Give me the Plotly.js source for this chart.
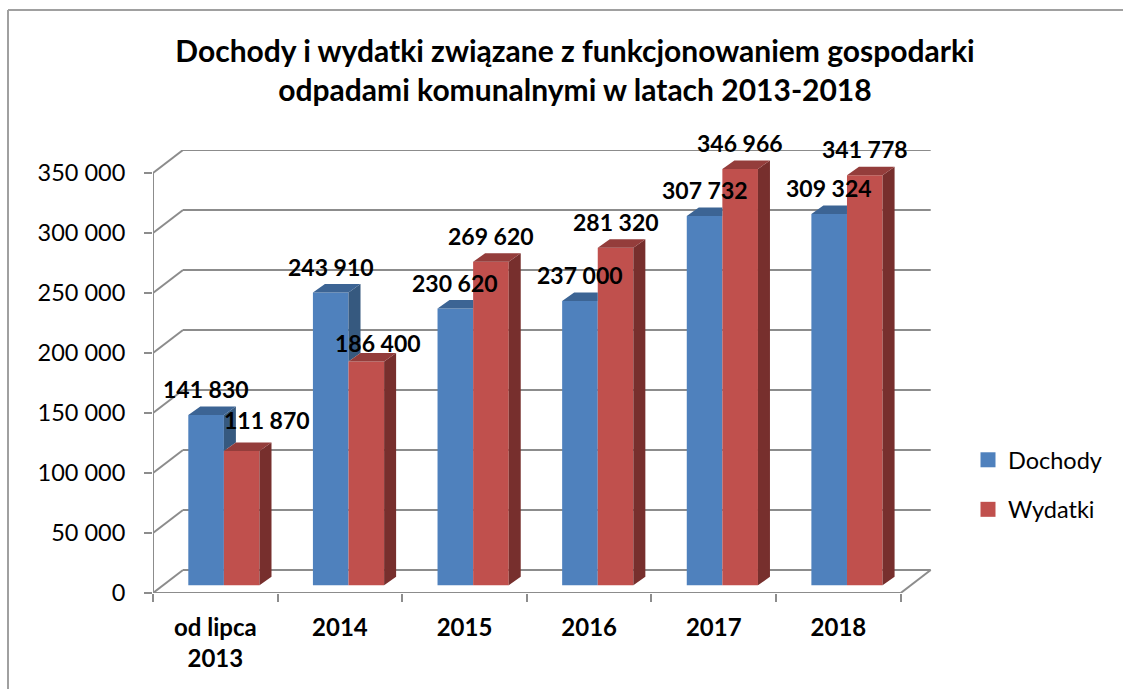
<!DOCTYPE html>
<html>
<head>
<meta charset="utf-8">
<script src="https://cdn.plot.ly/plotly-3.0.1.min.js"></script>
<style>html,body{margin:0;padding:0;background:#fff}</style>
</head>
<body>
<div id="chart" style="width:1123px;height:689px"></div>
<script>
const categories = ['od lipca<br>2013', '2014', '2015', '2016', '2017', '2018'];
const dochody = [141830, 243910, 230620, 237000, 307732, 309324];
const wydatki = [111870, 186400, 269620, 281320, 346966, 341778];
const yTicks = [0, 50000, 100000, 150000, 200000, 250000, 300000, 350000];
const yTickText = ['0', '50 000', '100 000', '150 000', '200 000', '250 000', '300 000', '350 000'];
const seriesNames = ['Dochody', 'Wydatki'];

// plot geometry, px
const W = 1123, H = 689, L = 153, R = 932, T = 150, B = 593;
const pxX = 124.62, pxY = 0.0012;            // px per category, px per value
const uX = p => p / pxX, uY = p => p / pxY;  // px -> data units
const FONT = 'Lato, "Open Sans", sans-serif';
const GRID = '#8c8c8c', BORDER = '#a0a0a0';

const lift = uY(7.7);
const barW = uX(35.6);
const off = [uX(188.3 - 215.31), uX(188.3 - 215.31 + 35.6)];
const dx = uX(12), dy = uY(8.5);
const wallX = uX(30), wallY = uY(23);
const idx = categories.map((_, i) => i);
const xMin = -0.5, xMax = 5.5;

function poly(pts) { return { x: pts.map(p => p[0]).concat(null), y: pts.map(p => p[1]).concat(null) }; }
function face(polys, color) {
  const x = [], y = [];
  polys.forEach(p => { x.push(...p.x); y.push(...p.y); });
  return { type: 'scatter', mode: 'lines', x, y, fill: 'toself', fillcolor: color,
           line: { width: 0, color }, hoverinfo: 'skip', showlegend: false, cliponaxis: false };
}

// Dochody faces are cut where the Wydatki bar stands in front of them
const dSide = [], dTop = [], wSide = [], wTop = [];
idx.forEach(i => {
  const d = dochody[i] + lift, w = wydatki[i] + lift;
  const a0 = i + off[0], a1 = a0 + barW, b0 = i + off[1], b1 = b0 + barW;
  if (d > w) {
    dSide.push(poly([[a1, w], [a1 + dx, w + dy], [a1 + dx, d + dy], [a1, d]]));
    dTop.push(poly([[a0, d], [a1, d], [a1 + dx, d + dy], [a0 + dx, d + dy]]));
  } else {
    dTop.push(poly([[a0, d], [a1, d], [a1, d + dy], [a0 + dx, d + dy]]));
  }
  wSide.push(poly([[b1, lift], [b1 + dx, lift + dy], [b1 + dx, w + dy], [b1, w]]));
  wTop.push(poly([[b0, w], [b1, w], [b1 + dx, w + dy], [b0 + dx, w + dy]]));
});

const swatch = (name, color) => ({
  type: 'scatter', mode: 'markers', name, x: [null], y: [null],
  marker: { symbol: 'square', size: 15, color }, legendgroup: name
});
const bar = (name, vals, k, color) => ({
  type: 'bar', name, x: idx, y: vals, base: vals.map(() => lift), width: barW, offset: off[k],
  marker: { color, line: { width: 0 } }, showlegend: false, hoverinfo: 'y'
});

const traces = [
  bar(seriesNames[0], dochody, 0, '#4f81bd'),
  bar(seriesNames[1], wydatki, 1, '#c0504d'),
  face(dSide, '#36597f'),
  face(dTop, '#3c6494'),
  face(wSide, '#772f2d'),
  face(wTop, '#943d3b'),
  swatch(seriesNames[0], '#4f81bd'),
  swatch(seriesNames[1], '#c0504d')
];

// walls and floor
const line = (x0, y0, x1, y1, color, width) => ({
  type: 'line', xref: 'x', yref: 'y', layer: 'below', x0, y0, x1, y1,
  line: { color: color || GRID, width: width || 2 }
});
const shapes = [];
yTicks.forEach(v => {
  shapes.push(line(xMin, v, xMin + wallX, v + wallY));
  shapes.push(line(xMin + wallX, v + wallY, xMax + wallX, v + wallY));
});
shapes.push(line(xMin, 0, xMin, yTicks[yTicks.length - 1]));
shapes.push(line(xMin, 0, xMax, 0));
shapes.push(line(xMax, 0, xMax + wallX, wallY));

// outer frame of the chart, running off the right and bottom edges
const pX = p => (p - L) / (R - L), pY = p => (B - p) / (B - T);
const frame = (a, b, c, d) => ({
  type: 'line', xref: 'paper', yref: 'paper', x0: pX(a), y0: pY(b), x1: pX(c), y1: pY(d),
  line: { color: BORDER, width: 2 }
});
shapes.push(frame(8, 10, W + 4, 10));
shapes.push(frame(8, 10, 8, H + 4));

// data labels; two of them sit off their bars in the original
const nudge = { '1:0': [25, 5], '1:1': [12, -7] };
const annotations = [];
[dochody, wydatki].forEach((vals, k) => vals.forEach((v, i) => {
  const n = nudge[k + ':' + i] || [0, 0];
  annotations.push({
    xref: 'x', yref: 'y', x: i + off[k] + barW / 2, y: v + lift, showarrow: false,
    text: String(v).replace(/(\d{3})$/, ' $1'),
    xshift: n[0], yshift: 26 + n[1], xanchor: 'center', yanchor: 'middle',
    font: { family: FONT, size: 23, color: '#000', weight: 700 }
  });
}));

const layout = {
  width: W, height: H, paper_bgcolor: '#fff', plot_bgcolor: 'rgba(0,0,0,0)',
  margin: { l: L, r: W - R, t: T, b: H - B, pad: 0, autoexpand: false },
  barmode: 'overlay',
  title: {
    text: 'Dochody i wydatki związane z funkcjonowaniem gospodarki<br>odpadami komunalnymi w latach 2013-2018',
    x: 575 / W, xanchor: 'center', y: 1 - 62 / H, yanchor: 'top',
    font: { family: FONT, size: 30, color: '#000', weight: 700 }
  },
  xaxis: {
    type: 'linear', range: [xMin, xMax + (R - 900.7) / pxX], showgrid: false, zeroline: false, showline: false,
    tickmode: 'array', tickvals: idx, ticktext: categories,
    ticks: 'outside', ticklen: 13, tickcolor: 'rgba(0,0,0,0)',
    tickfont: { family: FONT, size: 24, color: '#000', weight: 700 },
    minor: { tickmode: 'array', tickvals: [-0.5, 0.5, 1.5, 2.5, 3.5, 4.5, 5.5], ticks: 'outside', ticklen: 8, tickwidth: 2, tickcolor: GRID, showgrid: false }
  },
  yaxis: {
    range: [0, (B - T) / pxY], showgrid: false, zeroline: false, showline: false,
    tickmode: 'array', tickvals: yTicks, ticktext: yTickText,
    ticks: 'outside', ticklen: 8, tickwidth: 2, tickcolor: GRID, ticklabelstandoff: 14,
    tickfont: { family: FONT, size: 23.5, color: '#000' }
  },
  legend: {
    x: pX(968), xanchor: 'left', y: pY(438), yanchor: 'top', traceorder: 'grouped', tracegroupgap: 16,
    itemclick: false, font: { family: FONT, size: 23.5, color: '#000' }, bgcolor: 'rgba(0,0,0,0)'
  },
  shapes, annotations, showlegend: true
};

Plotly.newPlot('chart', traces, layout, { displayModeBar: false, staticPlot: true });
</script>
</body>
</html>
